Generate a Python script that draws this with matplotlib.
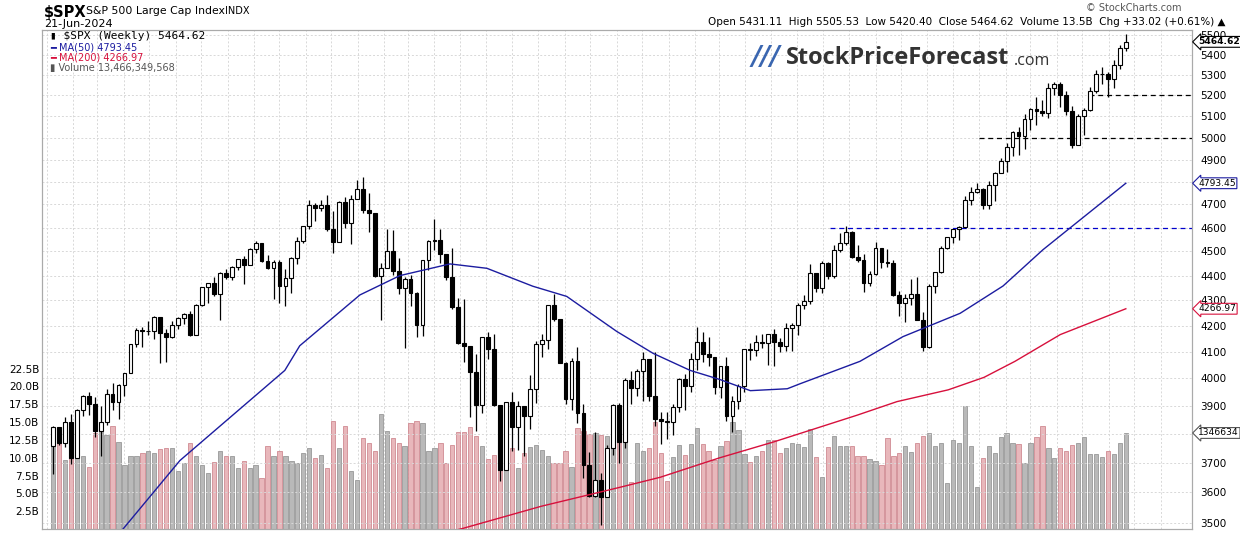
import numpy as np
import pandas as pd
import matplotlib
matplotlib.use("Agg")
import matplotlib.pyplot as plt
from matplotlib.ticker import FixedLocator, NullLocator, NullFormatter
from matplotlib.transforms import blended_transform_factory
from matplotlib.patches import Rectangle

# ---------------- DATA ----------------
first_week = "2021-01-08"
first_open = 3756.07
closes = [3824,3768,3841,3714,3886,3934,3906,3811,3842,3943,3913,3974,4020,4129,4185,4180,4181,4233,4174,4156,4204,4230,4247,4166,4281,4352,4370,4327,4412,4395,4437,4468,4442,4509,4535,4459,4433,4455,4357,4391,4471,4545,4605,4697,4683,4698,4595,4538,4712,4621,4726,4766,
 4677,4663,4398,4432,4500,4419,4349,4385,4329,4204,4463,4543,4546,4488,4393,4272,4132,4123,4024,3901,4158,4109,3901,3675,3912,3825,3899,3863,3962,4130,4145,4280,4228,4058,3924,4067,3873,3693,3586,3640,3583,3752,3901,3771,3993,3965,4026,4072,3934,3852,3845,3840,
 3895,3999,3973,4071,4136,4090,4079,3970,4046,3862,3917,3971,4109,4105,4138,4133,4169,4136,4124,4192,4205,4282,4299,4410,4348,4450,4399,4505,4536,4582,4478,4464,4370,4406,4516,4457,4450,4320,4288,4308,4327,4224,4117,4358,4415,4514,4559,4595,4604,4719,4754,4770,
 4697,4784,4840,4891,4959,5027,5006,5089,5137,5124,5117,5234,5254,5204,5123,4967,5100,5128,5223,5303,5305,5278,5347,5431.11,5464.62]
highs = [3827,3820,3859,3870,3887,3938,3950,3931,3899,3960,3983,3978,4020,4129,4191,4194,4218,4238,4236,4188,4220,4234,4249,4258,4287,4355,4372,4393,4415,4429,4440,4470,4480,4513,4545,4536,4486,4466,4465,4429,4475,4559,4608,4718,4708,4718,4743,4672,4713,4731,4740,4808,
 4819,4749,4665,4453,4595,4590,4471,4393,4402,4335,4466,4546,4637,4593,4471,4513,4308,4307,4081,4090,4158,4177,4168,3838,3913,3950,3919,3880,4013,4140,4167,4280,4325,4203,4062,4076,4119,3907,3736,3806,3665,3762,3905,3911,4001,4028,4034,4100,4052,4101,3876,3878,
 3906,4003,4015,4094,4195,4176,4156,4082,4048,4079,3937,3981,4110,4133,4164,4169,4170,4186,4154,4212,4212,4291,4322,4448,4408,4458,4456,4527,4578,4607,4584,4527,4490,4418,4541,4515,4511,4465,4338,4324,4385,4394,4256,4366,4415,4521,4560,4595,4609,4739,4778,4793,
 4772,4802,4842,4907,4975,5030,5048,5111,5140,5190,5180,5262,5265,5263,5223,5150,5112,5139,5239,5325,5341,5315,5375,5447,5505.53]
lows = [3662,3760,3754,3694,3725,3863,3866,3789,3723,3831,3885,3853,3935,4020,4119,4118,4166,4148,4057,4062,4151,4188,4206,4161,4165,4279,4289,4318,4224,4386,4381,4425,4367,4444,4493,4457,4429,4306,4288,4278,4329,4447,4537,4595,4630,4672,4585,4495,4540,4600,4531,4729,
 4662,4582,4395,4222,4431,4402,4324,4115,4279,4157,4161,4424,4506,4450,4381,4267,4129,4062,3859,3811,3875,4074,3900,3637,3705,3741,3743,3722,3818,3911,4079,4112,4218,4057,3906,3886,3838,3647,3584,3585,3491,3590,3727,3698,3751,3906,3937,3918,3918,3828,3765,3783,
 3794,3877,3885,3949,4031,4060,4047,3943,3928,3846,3808,3888,3951,4069,4086,4114,4049,4048,4098,4103,4103,4166,4264,4284,4333,4328,4385,4390,4497,4527,4474,4457,4335,4356,4404,4430,4436,4316,4238,4216,4283,4223,4103,4113,4329,4411,4511,4537,4546,4600,4697,4751,
 4682,4682,4714,4842,4845,4918,4920,4946,5038,5057,5104,5094,5203,5146,5107,4954,4969,5012,5127,5211,5256,5191,5234,5331,5420.40]
volume_b = [13.2,12.5,9.7,12.0,11.5,10.3,8.7,13.5,14.1,13.2,14.5,12.2,9.0,10.2,10.3,10.7,11.0,10.7,11.2,11.3,11.4,8.2,9.3,12.1,10.2,9.0,7.8,9.4,11.0,10.3,10.3,8.6,9.5,8.6,9.0,7.2,11.7,10.2,10.9,10.2,9.6,9.2,10.6,11.4,10.0,10.4,8.6,15.1,11.4,14.5,8.2,6.9,
 12.7,12.0,11.0,16.2,13.8,12.8,12.1,11.6,14.8,15.1,14.9,11.0,11.4,12.1,9.3,11.8,13.6,13.6,14.3,13.1,11.7,9.8,10.4,16.3,11.1,11.4,8.6,10.6,11.5,11.8,11.1,10.3,9.3,9.3,10.9,8.7,14.1,13.7,13.3,13.4,13.2,13.0,14.1,13.8,12.2,6.6,12.0,11.0,11.3,15.0,10.6,6.8,
 10.1,11.8,10.4,11.9,14.2,11.9,11.0,9.7,11.6,12.4,15.0,13.9,10.5,9.4,10.3,11.0,12.5,12.5,10.7,11.4,12.0,11.9,11.5,14.0,10.1,7.3,11.5,13.1,11.7,11.7,11.7,10.2,10.2,9.8,9.6,9.0,12.7,10.2,10.7,11.7,10.8,12.0,13.0,13.4,11.6,12.0,6.4,12.5,12.0,17.3,11.6,5.9,
 10.0,11.6,10.6,12.9,13.5,12.0,11.9,9.2,12.0,12.9,14.4,11.3,10.0,11.4,11.0,11.8,12.1,12.9,10.5,10.5,10.1,10.9,10.5,12.0,13.47]
ma50_week = [0,11.8,21.3,38.9,41.4,51.5,58.2,66.6,72.8,80.5,86.2,94.6,100.7,106.9,111.9,117,123.2,125.3,135.4,142.6,152.2,159.4,166.1,170.6,180]
ma50_val = [3250,3480,3707,4030,4123,4322,4400,4448,4430,4357,4316,4178,4094,4030,3996,3955,3962,3980,4064,4158,4249,4358,4507,4598,4793.45]
ma200_week = [55,68.6,81.9,95.1,101.9,111.8,121,134.9,141.6,150.2,156.2,161.4,169,180]
ma200_val = [3420,3480,3553,3616,3650,3716,3772,3866,3915,3958,4004,4064,4166,4266.97]
level_prices = [4600, 5000, 5200]
level_start_week = [130.4, 155.4, 173.8]
level_colors = ["#0000cc", "#000000", "#000000"]
price_ticks = list(range(3500, 5600, 100))
vol_ticks = [2.5, 5.0, 7.5, 10.0, 12.5, 15.0, 17.5, 20.0, 22.5]
month_letters = ["J","F","M","A","M","J","J","A","S","O","N","D"]
VOL_TOP = 70

# ---------------- FIGURE ----------------
fig = plt.figure(figsize=(12.4, 5.46), dpi=100)
L, R, B, T = 42/1240, 1192/1240, 17/546, 516/546
axv = fig.add_axes([L, B, R-L, T-B])
ax = axv.twinx()
ax.patch.set_visible(False)

n = len(closes)
x = np.arange(n)
opens = [first_open] + closes[:-1]
up = [c >= o for o, c in zip(opens, closes)]

# volume
vcol = ["#b9b9b9" if u else "#e8b7bb" for u in up]
vedge = ["#999999" if u else "#d08a92" for u in up]
axv.bar(x, volume_b, width=0.72, color=vcol, edgecolor=vedge, linewidth=0.6, zorder=1)
axv.set_ylim(0, VOL_TOP)
axv.yaxis.set_major_locator(FixedLocator(vol_ticks))
axv.set_yticklabels([f"{v:.1f}B" for v in vol_ticks])
axv.tick_params(axis="y", labelsize=7.5, length=0, pad=2)

# candles
ax.set_yscale("log")
for i in range(n):
    o, c, h, l = opens[i], closes[i], highs[i], lows[i]
    ax.vlines(i, l, h, color="black", linewidth=0.9, zorder=3)
    lo, hi = min(o, c), max(o, c)
    ax.add_patch(Rectangle((i-0.32, lo), 0.64, max(hi-lo, 1.5),
                           facecolor="white" if up[i] else "black",
                           edgecolor="black", linewidth=0.8, zorder=4))
ax.plot(ma50_week, ma50_val, color="#1c1ca0", linewidth=1.0, zorder=5)
ax.plot(ma200_week, ma200_val, color="#d7103c", linewidth=1.0, zorder=5)
for p, s, col in zip(level_prices, level_start_week, level_colors):
    ax.hlines(p, s, 191.1, colors=col, linestyles=(0, (4, 3)), linewidth=0.9, zorder=2)

ax.set_ylim(3479, 5525)
ax.set_xlim(-1.84, 191.1)
ax.yaxis.set_major_locator(FixedLocator(price_ticks))
ax.yaxis.set_minor_locator(NullLocator())
ax.yaxis.set_minor_formatter(NullFormatter())
ax.set_yticklabels([str(p) for p in price_ticks])
ax.tick_params(axis="y", labelsize=7.5, length=0, pad=6)

# grid
for p in price_ticks:
    ax.axhline(p, color="#d8d8d8", linestyle=(0, (2, 2)), linewidth=0.7, zorder=0)
start = pd.Timestamp(first_week)
mstarts = pd.date_range("2021-01-01", "2024-08-01", freq="MS")
mpos = [(d - start).days / 7.0 for d in mstarts]
for d, mp in zip(mstarts, mpos):
    axv.axvline(mp, color="#d8d8d8", linestyle=(0, (2, 2)), linewidth=0.7, zorder=0)
axv.set_xticks(mpos)
labs = [f"{d.year % 100:02d}" if d.month == 1 else month_letters[d.month-1] for d in mstarts]
axv.set_xticklabels(labs)
axv.tick_params(axis="x", labelsize=7.5, length=0, pad=2)
for t, d in zip(axv.get_xticklabels(), mstarts):
    if d.month == 1:
        t.set_fontweight("bold"); t.set_fontsize(9)
ax.set_xticks([])

for a in (ax, axv):
    for s in a.spines.values():
        s.set_color("#aaaaaa"); s.set_linewidth(0.8)

# price tags (drawn on the top axes so they cover the tick labels like the reference)
tr = blended_transform_factory(ax.transAxes, ax.transData)
for val, txt, ec, fw in [(5464.62, "5464.62", "black", "bold"), (4793.45, "4793.45", "#1c1ca0", "normal"), (4266.97, "4266.97", "#d7103c", "normal")]:
    ax.text(1.0055, val, txt, transform=tr, fontsize=6.6, fontweight=fw, va="center", ha="left",
            bbox=dict(boxstyle="larrow,pad=0.1", fc="white", ec=ec, lw=0.8), zorder=10, clip_on=False)
ax.text(1.0055, volume_b[-1] / VOL_TOP, "1346634", transform=ax.transAxes, fontsize=6.6, va="center", ha="left",
        bbox=dict(boxstyle="larrow,pad=0.1", fc="white", ec="#555555", lw=0.8), zorder=10, clip_on=False)

# header
fig.text(44/1240, 1-12/546, "$SPX", fontsize=10.5, fontweight="bold", va="center")
fig.text(86/1240, 1-11/546, "S&P 500 Large Cap Index", fontsize=7.8, va="center")
fig.text(225/1240, 1-11/546, "INDX", fontsize=7, va="center")
fig.text(44/1240, 1-24/546, "21-Jun-2024", fontsize=8, va="center")
fig.text(1182/1240, 1-8/546, "© StockCharts.com", fontsize=7, color="#555555", ha="right", va="center")
fig.text(1226/1240, 1-22/546,
         "Open 5431.11  High 5505.53  Low 5420.40  Close 5464.62  Volume 13.5B  Chg +33.02 (+0.61%) ▲",
         fontsize=7.5, ha="right", va="center")

# legend
lx = 50/1240
fig.text(lx, 1-36/546, "▮ $SPX (Weekly) 5464.62", fontsize=8, va="center", family="DejaVu Sans Mono")
fig.text(lx, 1-47/546, "━ MA(50) 4793.45", fontsize=7, va="center", color="#1c1ca0")
fig.text(lx, 1-58/546, "━ MA(200) 4266.97", fontsize=7, va="center", color="#d7103c")
fig.text(lx, 1-68/546, "▮ Volume 13,466,349,568", fontsize=7, va="center", color="#555555")

# watermark
fig.text(752/1240, 1-58/546, "///", fontsize=19, fontweight="bold", color="#3a66b0", va="center", style="italic")
fig.text(786/1240, 1-58/546, "StockPriceForecast", fontsize=17, fontweight="bold", color="#333333", va="center", family="Open Sans")
fig.text(1014/1240, 1-61/546, ".com", fontsize=11.5, color="#333333", va="center", family="Open Sans")

fig.savefig("out.png", dpi=100)
